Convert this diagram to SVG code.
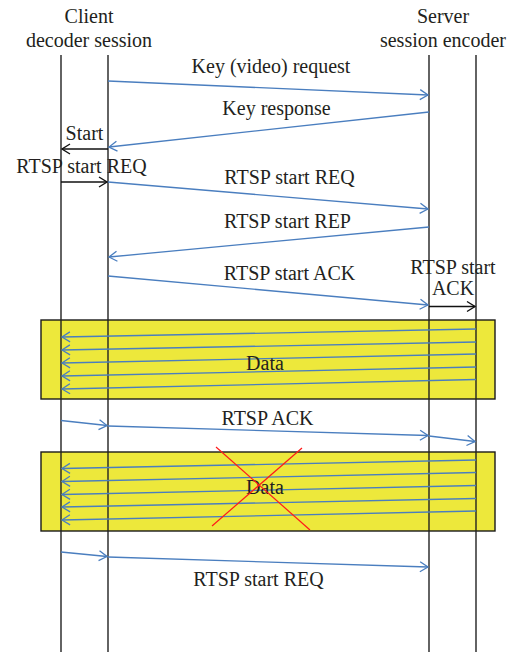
<svg xmlns="http://www.w3.org/2000/svg" width="519" height="652" viewBox="0 0 519 652">
<style>
text{font-family:"Liberation Serif","Times New Roman",serif;font-size:20px;fill:#231f20;text-anchor:middle}
.life{stroke:#222;stroke-width:1.4;fill:none}
.box{fill:#ede83b;stroke:#1a1a1a;stroke-width:1.4}
.msg{stroke:#4a7ebf;stroke-width:1.3;fill:none;marker-end:url(#ab)}
.blk{stroke:#111;stroke-width:1.4;fill:none;marker-end:url(#ak)}
.x{stroke:#ff1a1a;stroke-width:1.2}
</style>
<defs>
<marker id="ab" markerUnits="userSpaceOnUse" markerWidth="12" markerHeight="12" refX="9" refY="5" orient="auto" overflow="visible">
<path d="M1,0 L9,5 L1,10" fill="none" stroke="#4a7ebf" stroke-width="1.3"/>
</marker>
<marker id="ak" markerUnits="userSpaceOnUse" markerWidth="12" markerHeight="12" refX="9" refY="5" orient="auto" overflow="visible">
<path d="M1,0 L9,5 L1,10" fill="none" stroke="#111" stroke-width="1.4"/>
</marker>
</defs>
<rect width="519" height="652" fill="#fff"/>
<g id="titles">
<text x="89" y="23">Client</text>
<text x="89" y="47">decoder session</text>
<text x="443" y="23">Server</text>
<text x="443" y="47">session encoder</text>
</g>
<g id="data-box-1"><rect class="box" x="41" y="320" width="454" height="79"/></g>
<g id="data-box-2"><rect class="box" x="41" y="452" width="454" height="79"/></g>
<g id="client-decoder"><line class="life" x1="61" y1="55" x2="61" y2="652"/></g>
<g id="client-session"><line class="life" x1="108" y1="55" x2="108" y2="652"/></g>
<g id="server-session"><line class="life" x1="429" y1="55" x2="429" y2="652"/></g>
<g id="server-encoder"><line class="life" x1="476" y1="55" x2="476" y2="652"/></g>
<g id="connectors">
<line class="msg" x1="108" y1="81" x2="428" y2="95"/>
<line class="msg" x1="429" y1="112" x2="109" y2="147"/>
<line class="blk" x1="108" y1="149" x2="62" y2="149"/>
<line class="blk" x1="61" y1="182" x2="107" y2="182"/>
<line class="msg" x1="108" y1="182" x2="428" y2="209"/>
<line class="msg" x1="429" y1="227" x2="109" y2="257"/>
<line class="msg" x1="108" y1="276" x2="428" y2="305"/>
<line class="blk" x1="429" y1="306.5" x2="475" y2="306.5"/>
<line class="msg" x1="476" y1="329" x2="62" y2="337"/>
<line class="msg" x1="476" y1="342" x2="62" y2="350"/>
<line class="msg" x1="476" y1="354" x2="62" y2="363"/>
<line class="msg" x1="476" y1="367" x2="62" y2="376"/>
<line class="msg" x1="476" y1="379.5" x2="62" y2="389"/>
<line class="msg" x1="61" y1="420.5" x2="107" y2="425.5"/>
<line class="msg" x1="108" y1="426" x2="428" y2="435.5"/>
<line class="msg" x1="429" y1="436" x2="475" y2="441.5"/>
<line class="msg" x1="476" y1="460" x2="62" y2="468.5"/>
<line class="msg" x1="476" y1="472.5" x2="62" y2="481.5"/>
<line class="msg" x1="476" y1="485.5" x2="62" y2="494.5"/>
<line class="msg" x1="476" y1="498.5" x2="62" y2="507"/>
<line class="msg" x1="476" y1="511" x2="62" y2="520"/>
<line class="msg" x1="61" y1="552" x2="107" y2="556.5"/>
<line class="msg" x1="108" y1="557" x2="428" y2="567"/>
</g>
<g id="labels">
<text x="271" y="73">Key (video) request</text>
<text x="276.5" y="115">Key response</text>
<text x="84.5" y="140">Start</text>
<text x="81.5" y="173">RTSP start REQ</text>
<text x="289.5" y="184">RTSP start REQ</text>
<text x="287.5" y="228">RTSP start REP</text>
<text x="289.5" y="280">RTSP start ACK</text>
<text x="453" y="274">RTSP start</text>
<text x="453" y="295">ACK</text>
<text x="265" y="370">Data</text>
<text x="267.5" y="425">RTSP ACK</text>
<text x="265" y="494">Data</text>
<text x="258.5" y="586">RTSP start REQ</text>
</g>
<g id="lost-mark">
<line class="x" x1="216" y1="447" x2="310" y2="530"/>
<line class="x" x1="302" y1="448" x2="212" y2="526"/>
</g>
</svg>
